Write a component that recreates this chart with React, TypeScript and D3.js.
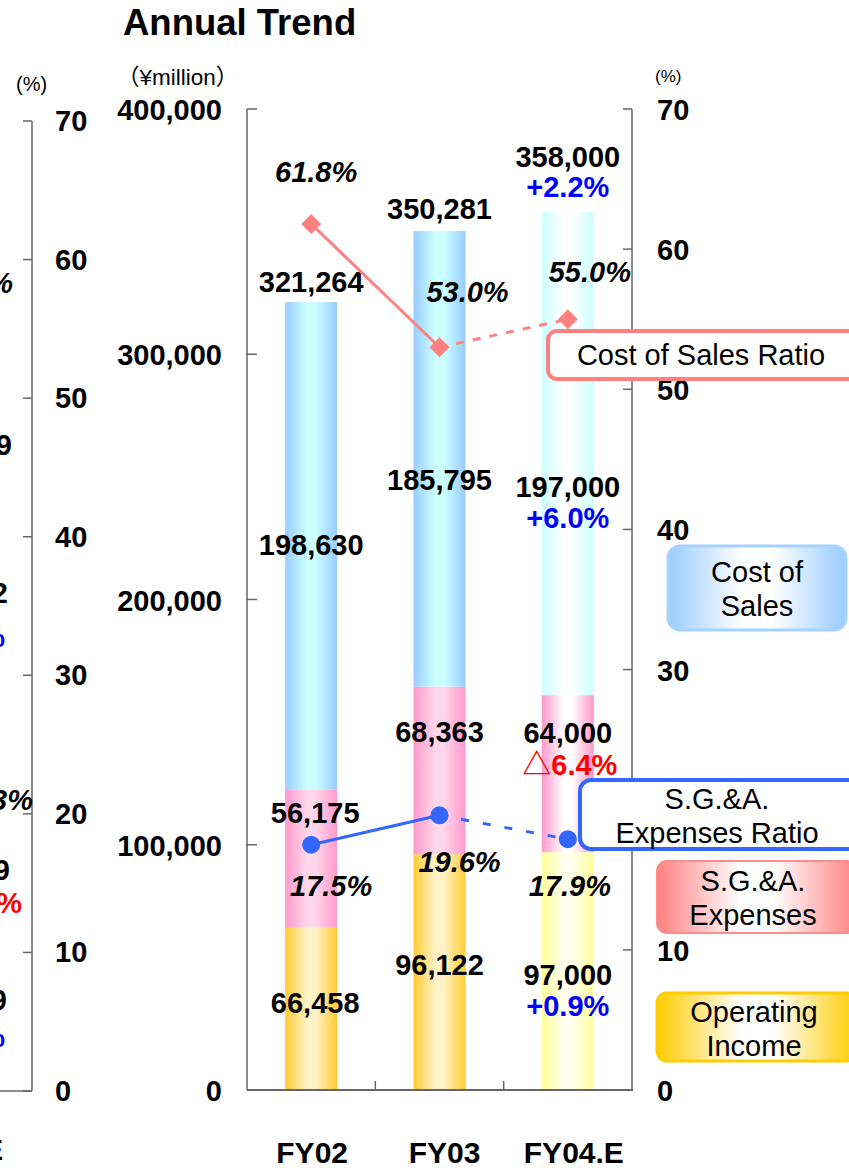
import React from "react";
import * as d3 from "d3";

// ---------- data ----------
const categories = ["FY02", "FY03", "FY04.E"];
const operatingIncome = [66458, 96122, 97000];
const sgaExpenses = [56175, 68363, 64000];
const costOfSales = [198630, 185795, 197000];
const netSales = [321264, 350281, 358000];
const costRatio = [61.8, 53.0, 55.0];
const sgaRatio = [17.5, 19.6, 17.9];
const salesChange = ["", "", "+2.2%"];
const cosChange = ["", "", "+6.0%"];
const sgaChange = ["", "", "△6.4%"];
const oiChange = ["", "", "+0.9%"];
const forecast = [false, false, true];
const amountTicks = [0, 100000, 200000, 300000, 400000];
const pctTicks = [0, 10, 20, 30, 40, 50, 60, 70];
// cropped labels of the neighbouring (previous) chart at the left edge
const prevLabels = [
  { text: "60.9%", y: 283, x: 13, color: "#000", italic: true },
  { text: "172,289", y: 445, x: 12, color: "#000", italic: false },
  { text: "99,952", y: 593, x: 8, color: "#000", italic: false },
  { text: "+3.0%", y: 637, x: 5, color: "#0000ff", italic: false },
  { text: "18.3%", y: 800, x: 33, color: "#000", italic: true },
  { text: "31,579", y: 870, x: 10, color: "#000", italic: false },
  { text: "△4.9%", y: 903, x: 22, color: "#ff0000", italic: false },
  { text: "40,759", y: 1000, x: 7, color: "#000", italic: false },
  { text: "+5.0%", y: 1037, x: 5, color: "#0000ff", italic: false },
  { text: "1H FY04.E", y: 1150, x: 3, color: "#000", italic: false },
];

// ---------- layout ----------
const W = 849;
const H = 1168;
const FONT = "'Liberation Sans', Arial, 'Noto Sans CJK JP', sans-serif";
const FS = 29;
const plotL = 247;
const plotR = 632;
const plotT = 109;
const plotB = 1090;
const barW = 52;

const x = d3.scaleBand<string>().domain(categories).range([plotL, plotR]).padding(0);
const yAmt = d3.scaleLinear().domain([0, 400000]).range([plotB, plotT]);
const yPct = d3.scaleLinear().domain([0, 70]).range([plotB, plotT]);
const yPrev = d3.scaleLinear().domain([0, 70]).range([1091, 121]);
const cx = (c: string) => (x(c) as number) + x.bandwidth() / 2;

// label layout (pixels)
const totalDy = [-20, -22, -25];
const cosLabelY = [545, 480, 487];
const sgaLabelY = [813, 732, 733];
const oiLabelY = [1003, 965, 975];
const sgaLabelDx = [4, 0, 0];
const catLabelDx = [1, 5, 6];
const cosRatioLabel = [
  { dx: 5, dy: -52 },
  { dx: 28, dy: -55 },
  { dx: 22, dy: -47 },
];
const sgaRatioLabel = [
  { dx: 20, dy: 41 },
  { dx: 20, dy: 47 },
  { dx: 2, dy: 47 },
];

const grads: Record<string, [string, string]> = {
  cos: ["#99ccff", "#ccffff"],
  cosF: ["#ccffff", "#ffffff"],
  sga: ["#ff99cc", "#ffd6ea"],
  sgaF: ["#ff99cc", "#ffffff"],
  oi: ["#ffcc33", "#fff2c8"],
  oiF: ["#ffff99", "#ffffee"],
  legCos: ["#99ccff", "#ffffff"],
  legSga: ["#ff8080", "#ffffff"],
  legOi: ["#ffcc00", "#ffffff"],
};

const BoldNum = (props: any) => (
  <text
    textAnchor="middle"
    dominantBaseline="central"
    fontFamily={FONT}
    fontWeight="bold"
    fontSize={FS}
    {...props}
  />
);

export default function App() {
  const cosColor = "#ff8080";
  const sgaColor = "#3366ff";
  const cosPts = costRatio.map((v, i) => [cx(categories[i]), yPct(v)] as [number, number]);
  const sgaPts = sgaRatio.map((v, i) => [cx(categories[i]), yPct(v)] as [number, number]);
  const line = d3.line();
  const diamond = d3.symbol().type(d3.symbolSquare).size(200);

  return (
    <svg
      width={W}
      height={H}
      style={{ position: "absolute", left: 0, top: 0, background: "#fff" }}
      fontFamily={FONT}
    >
      <defs>
        {Object.entries(grads).map(([id, [edge, mid]]) => (
          <linearGradient id={id} key={id} x1="0" x2="1" y1="0" y2="0">
            <stop offset="0" stopColor={edge} />
            <stop offset="0.42" stopColor={mid} />
            <stop offset="0.58" stopColor={mid} />
            <stop offset="1" stopColor={edge} />
          </linearGradient>
        ))}
      </defs>
      <rect width={W} height={H} fill="#fff" />

      {/* title */}
      <text x={123} y={35} fontSize={36.5} fontWeight="bold" fill="#000">
        Annual Trend
      </text>

      {/* previous chart (cropped) */}
      <text x={16} y={91} fontSize={20} fill="#000">(%)</text>
      <line x1={32} x2={32} y1={yPrev(70)} y2={yPrev(0)} stroke="#666" strokeWidth={1.5} />
      <line x1={0} x2={32} y1={yPrev(0)} y2={yPrev(0)} stroke="#666" strokeWidth={1.5} />
      {pctTicks.map((t) => (
        <g key={"pv" + t}>
          <line x1={23} x2={32} y1={yPrev(t)} y2={yPrev(t)} stroke="#666" strokeWidth={1.5} />
          <BoldNum x={55} y={yPrev(t)} textAnchor="start">
            {t}
          </BoldNum>
        </g>
      ))}
      {prevLabels.map((p, i) => (
        <BoldNum
          key={"pl" + i}
          x={p.x}
          y={p.y}
          textAnchor="end"
          fill={p.color}
          fontStyle={p.italic ? "italic" : "normal"}
        >
          {p.text}
        </BoldNum>
      ))}

      {/* axis unit labels */}
      <text x={117} y={85} fontSize={22.5} fill="#000">（¥million）</text>
      <text x={655} y={82} fontSize={17} fill="#000">(%)</text>

      {/* bars */}
      {categories.map((c, i) => {
        const bx = cx(c) - barW / 2;
        const f = forecast[i] ? "F" : "";
        const y0 = yAmt(0);
        const y1 = yAmt(operatingIncome[i]);
        const y2 = yAmt(operatingIncome[i] + sgaExpenses[i]);
        const y3 = yAmt(operatingIncome[i] + sgaExpenses[i] + costOfSales[i]);
        return (
          <g key={c}>
            <rect x={bx} y={y1} width={barW} height={y0 - y1} fill={`url(#oi${f})`} />
            <rect x={bx} y={y2} width={barW} height={y1 - y2} fill={`url(#sga${f})`} />
            <rect x={bx} y={y3} width={barW} height={y2 - y3} fill={`url(#cos${f})`} />
          </g>
        );
      })}

      {/* axes */}
      <line x1={plotL} x2={plotL} y1={plotT} y2={plotB} stroke="#666" strokeWidth={1.5} />
      <line x1={plotR} x2={plotR} y1={plotT} y2={plotB} stroke="#666" strokeWidth={1.5} />
      <line x1={plotL} x2={plotR + 1} y1={plotB} y2={plotB} stroke="#666" strokeWidth={2} />
      {amountTicks.map((t) => (
        <g key={"a" + t}>
          <line x1={plotL} x2={plotL + 10} y1={yAmt(t)} y2={yAmt(t)} stroke="#666" strokeWidth={1.5} />
          <BoldNum x={222} y={yAmt(t) + 1} textAnchor="end">
            {d3.format(",")(t)}
          </BoldNum>
        </g>
      ))}
      {pctTicks.map((t) => (
        <g key={"p" + t}>
          <line x1={plotR - 9} x2={plotR} y1={yPct(t)} y2={yPct(t)} stroke="#666" strokeWidth={1.5} />
          <BoldNum x={657} y={yPct(t) + 1} textAnchor="start">
            {t}
          </BoldNum>
        </g>
      ))}
      {categories.slice(1).map((c) => (
        <line
          key={"xt" + c}
          x1={x(c) as number}
          x2={x(c) as number}
          y1={plotB}
          y2={plotB - 9}
          stroke="#666"
          strokeWidth={1.5}
        />
      ))}
      {categories.map((c, i) => (
        <BoldNum key={"xl" + c} x={cx(c) + catLabelDx[i]} y={1152} fontSize={30}>
          {c}
        </BoldNum>
      ))}

      {/* bar labels */}
      {categories.map((c, i) => {
        const top = yAmt(netSales[i]);
        const has = salesChange[i] !== "";
        return (
          <g key={"lab" + c}>
            <BoldNum x={cx(c)} y={top + totalDy[i] - (has ? 30 : 0)}>
              {d3.format(",")(netSales[i])}
            </BoldNum>
            {has && (
              <BoldNum x={cx(c)} y={top + totalDy[i]} fill="#0000ff">
                {salesChange[i]}
              </BoldNum>
            )}
            <BoldNum x={cx(c)} y={cosLabelY[i]}>
              {d3.format(",")(costOfSales[i])}
            </BoldNum>
            {cosChange[i] && (
              <BoldNum x={cx(c)} y={cosLabelY[i] + 31} fill="#0000ff">
                {cosChange[i]}
              </BoldNum>
            )}
            <BoldNum x={cx(c) + sgaLabelDx[i]} y={sgaLabelY[i]}>
              {d3.format(",")(sgaExpenses[i])}
            </BoldNum>
            {sgaChange[i] && (
              <BoldNum x={cx(c) + 2} y={sgaLabelY[i] + 32} fill="#ff0000">
                {sgaChange[i]}
              </BoldNum>
            )}
            <BoldNum x={cx(c) + sgaLabelDx[i]} y={oiLabelY[i]}>
              {d3.format(",")(operatingIncome[i])}
            </BoldNum>
            {oiChange[i] && (
              <BoldNum x={cx(c)} y={oiLabelY[i] + 31} fill="#0000ff">
                {oiChange[i]}
              </BoldNum>
            )}
          </g>
        );
      })}

      {/* cost of sales ratio line */}
      <path d={line(cosPts.slice(0, 2)) || ""} stroke={cosColor} strokeWidth={3} fill="none" />
      <path
        d={line(cosPts.slice(1, 3)) || ""}
        stroke={cosColor}
        strokeWidth={3}
        fill="none"
        strokeDasharray="8,9"
      />
      {cosPts.map((p, i) => (
        <path
          key={"cd" + i}
          d={diamond() || ""}
          transform={`translate(${p[0]},${p[1]}) rotate(45)`}
          fill={cosColor}
        />
      ))}
      {cosPts.map((p, i) => (
        <BoldNum
          key={"cl" + i}
          x={p[0] + cosRatioLabel[i].dx}
          y={p[1] + cosRatioLabel[i].dy}
          fontStyle="italic"
        >
          {costRatio[i].toFixed(1)}%
        </BoldNum>
      ))}

      {/* SG&A ratio line */}
      <path d={line(sgaPts.slice(0, 2)) || ""} stroke={sgaColor} strokeWidth={3} fill="none" />
      <path
        d={line(sgaPts.slice(1, 3)) || ""}
        stroke={sgaColor}
        strokeWidth={3}
        fill="none"
        strokeDasharray="8,14"
      />
      {sgaPts.map((p, i) => (
        <circle key={"sc" + i} cx={p[0]} cy={p[1]} r={9} fill={sgaColor} />
      ))}
      {sgaPts.map((p, i) => (
        <BoldNum
          key={"sl" + i}
          x={p[0] + sgaRatioLabel[i].dx}
          y={p[1] + sgaRatioLabel[i].dy}
          fontStyle="italic"
        >
          {sgaRatio[i].toFixed(1)}%
        </BoldNum>
      ))}

      {/* legends */}
      <g fontSize={FS} fill="#000" textAnchor="middle" dominantBaseline="central">
        <rect x={548} y={331} width={320} height={48} rx={9} fill="#fff" stroke={cosColor} strokeWidth={4} />
        <text x={701} y={355}>Cost of Sales Ratio</text>

        <rect x={668} y={546} width={178} height={84} rx={12} fill="url(#legCos)" stroke="#a6d2ff" strokeWidth={3} />
        <text x={757} y={572}>Cost of</text>
        <text x={757} y={606}>Sales</text>

        <rect x={580} y={780} width={290} height={69} rx={11} fill="#fff" stroke={sgaColor} strokeWidth={4} />
        <text x={717} y={799}>S.G.&amp;A.</text>
        <text x={717} y={833}>Expenses Ratio</text>

        <rect x={657} y={861} width={200} height={72} rx={10} fill="url(#legSga)" stroke="#ff8c8c" strokeWidth={2} />
        <text x={753} y={881}>S.G.&amp;A.</text>
        <text x={753} y={915}>Expenses</text>

        <rect x={657} y={993} width={200} height={68} rx={10} fill="url(#legOi)" stroke="#ffcc00" strokeWidth={3} />
        <text x={754} y={1012}>Operating</text>
        <text x={754} y={1046}>Income</text>
      </g>
    </svg>
  );
}
